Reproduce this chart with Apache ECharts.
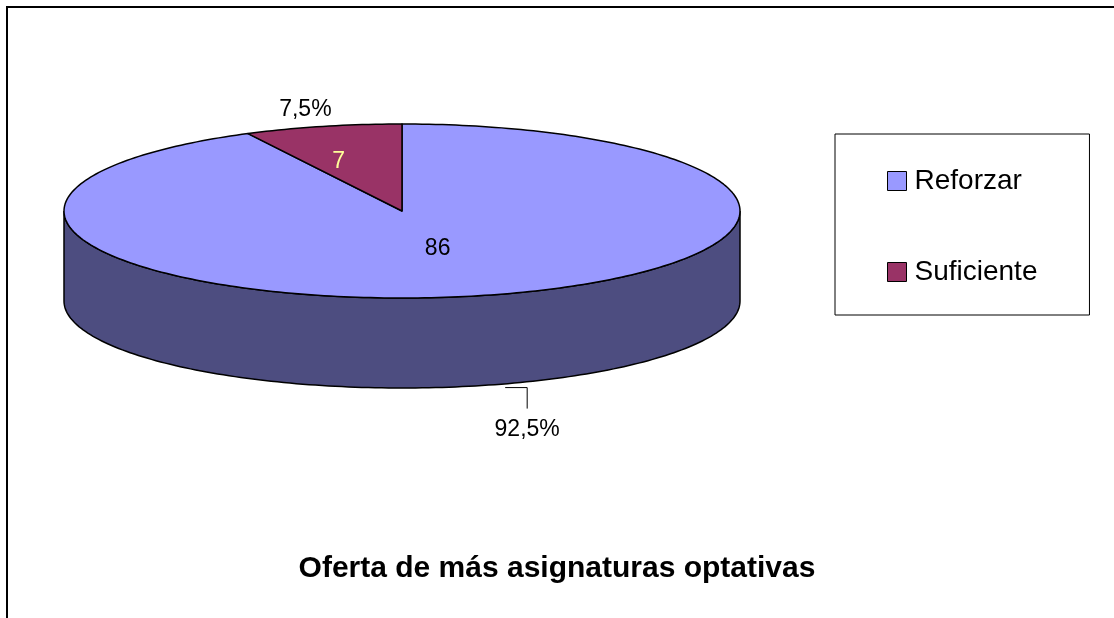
<!DOCTYPE html>
<html lang="es">
<head>
    <meta charset="UTF-8">
    <title>Oferta de más asignaturas optativas</title>
    <script src="https://cdn.jsdelivr.net/npm/echarts@6/dist/echarts.min.js"></script>
    <style>
        html, body { margin: 0; padding: 0; background: #fff; }
        #fig1 { width: 1114px; height: 618px; }
    </style>
</head>
<body>
    <div id="fig1"></div>
    <script>
        // datos
        const categories = ['Reforzar', 'Suficiente'];
        const values = [86, 7];

        const topColors = ['#9999FF', '#993366'];
        const sideColors = ['#4D4D80', '#4D1A33'];
        const innerLabelColors = ['#000000', '#FFFF99'];
        const FONT = '"Liberation Sans", Arial, sans-serif';

        // geometría del "pastel 3D" (elipse + profundidad)
        const CX = 402, CY = 211, RX = 338, RY = 87, DEPTH = 90;

        const total = values.reduce((a, b) => a + b, 0);

        function pt (theta, dy, kx, ky) {
            kx = kx || 1;
            ky = ky || kx;
            return [CX + RX * kx * Math.sin(theta), CY - RY * ky * Math.cos(theta) + (dy || 0)];
        }

        function arc (t0, t1, dy) {
            let n = Math.max(2, Math.ceil(Math.abs(t1 - t0) / 0.02));
            let pts = [];
            for (let i = 0; i <= n; i++) {
                pts.push(pt(t0 + (t1 - t0) * i / n, dy));
            }
            return pts;
        }

        function pctText (v) {
            return (v / total * 100).toFixed(1).replace('.', ',') + '%';
        }

        function makeRender (idx) {
            return function (params, api) {
                let before = 0;
                for (let j = 0; j < idx; j++) before += values[j];
                let start = before / total * Math.PI * 2;
                let end = start + values[idx] / total * Math.PI * 2;
                let children = [];

                // cara lateral visible (mitad delantera)
                let s0 = Math.max(start, Math.PI / 2), s1 = Math.min(end, Math.PI * 1.5);
                if (s1 > s0) {
                    children.push({
                        type: 'polygon',
                        z2: 1,
                        shape: { points: arc(s0, s1, 0).concat(arc(s1, s0, DEPTH)) },
                        style: { fill: sideColors[idx], stroke: '#000', lineWidth: 1.5 }
                    });
                }
                // cara superior
                children.push({
                    type: 'polygon',
                    z2: 5,
                    shape: { points: [[CX, CY]].concat(arc(start, end, 0)) },
                    style: { fill: api.visual('color'), stroke: '#000', lineWidth: 1.5, lineJoin: 'round' }
                });

                let mid = (start + end) / 2;
                // etiqueta de valor
                let lp = values[idx] / total > 0.5 ? pt(mid, 0, 0.45) : pt(mid, 0, 0.8, 0.58);
                children.push({
                    type: 'text', z2: 10, x: lp[0], y: lp[1],
                    style: {
                        text: String(values[idx]), fill: innerLabelColors[idx],
                        font: '23px ' + FONT, align: 'center', verticalAlign: 'middle'
                    }
                });

                // etiqueta de porcentaje
                if (mid > Math.PI / 2 && mid < Math.PI * 1.5) {
                    let rim = pt(mid, DEPTH);
                    let lx = rim[0] + 46, ly = rim[1] + 44;
                    children.push({
                        type: 'polyline', z2: 10,
                        shape: { points: [[lx - 22, ly - 42], [lx, ly - 42], [lx, ly - 21]] },
                        style: { stroke: '#000', lineWidth: 1, fill: null }
                    });
                    children.push({
                        type: 'text', z2: 10, x: lx, y: ly,
                        style: { text: pctText(values[idx]), fill: '#000', font: '23px ' + FONT, align: 'center', verticalAlign: 'middle' }
                    });
                } else {
                    let op = pt(mid, 0, 1.22, 1.2);
                    children.push({
                        type: 'text', z2: 10, x: op[0], y: op[1],
                        style: { text: pctText(values[idx]), fill: '#000', font: '23px ' + FONT, align: 'center', verticalAlign: 'middle' }
                    });
                }
                return { type: 'group', children: children };
            };
        }

        let fig1 = echarts.init(document.getElementById('fig1'), null, { renderer: 'canvas' });

        let series = categories.map((name, i) => ({
            name: name,
            type: 'custom',
            coordinateSystem: 'none',
            itemStyle: { color: topColors[i] },
            data: [values[i]],
            renderItem: makeRender(i)
        }));

        let option = {
            animation: false,
            backgroundColor: '#fff',
            title: {
                text: 'Oferta de más asignaturas optativas',
                left: 'center',
                top: 549,
                textStyle: { fontFamily: FONT, fontSize: 30, fontWeight: 'bold', color: '#000' }
            },
            legend: {
                data: categories,
                orient: 'vertical',
                left: 835,
                top: 134,
                padding: [33, 52, 29, 52],
                itemGap: 63,
                itemWidth: 19,
                itemHeight: 19,
                icon: 'rect',
                borderColor: '#000',
                borderWidth: 1,
                itemStyle: { borderColor: '#000', borderWidth: 1 },
                textStyle: { fontFamily: FONT, fontSize: 28, color: '#000', padding: [0, 0, 0, 3] }
            },
            graphic: [{
                type: 'rect',
                silent: true,
                shape: { x: 7, y: 7, width: 1130, height: 640 },
                style: { fill: null, stroke: '#000', lineWidth: 2 }
            }],
            series: series
        };

        fig1.setOption(option);

        window.onresize = function () {
            fig1.resize();
        };
    </script>
</body>
</html>
